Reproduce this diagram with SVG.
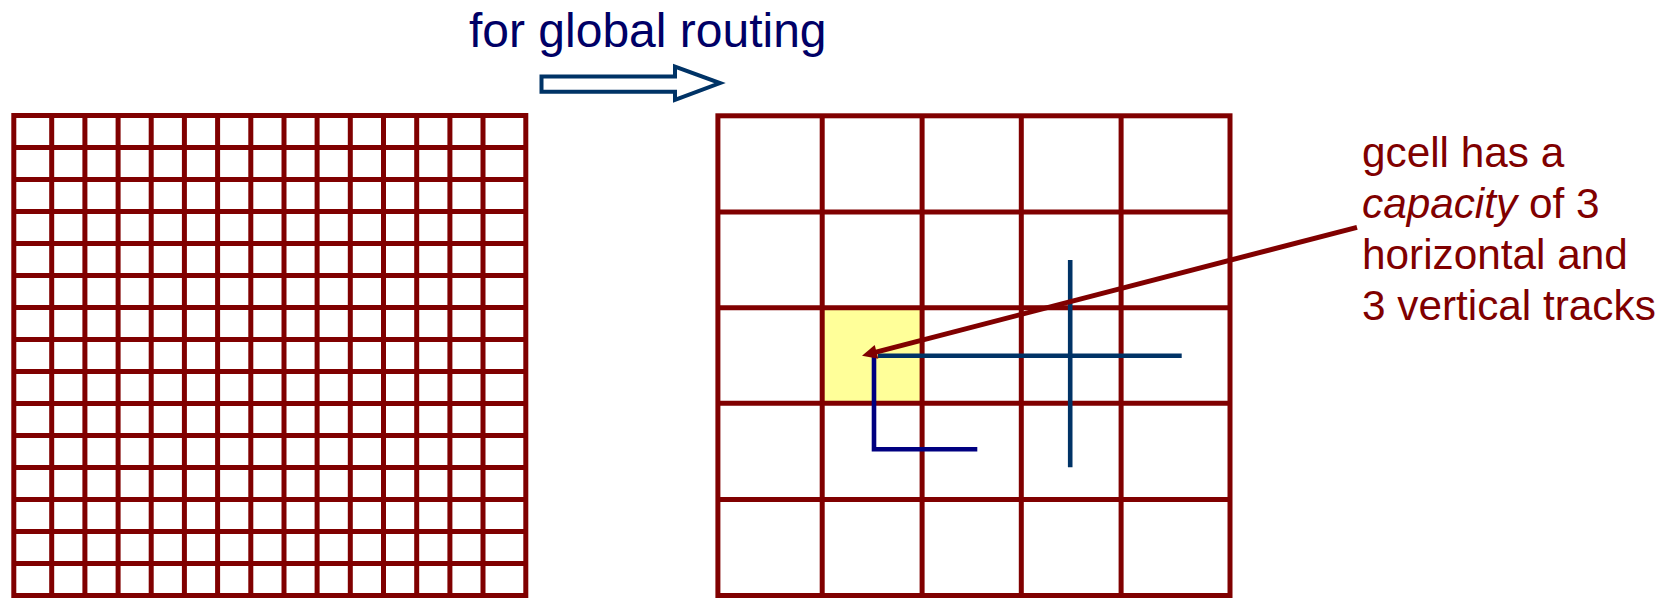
<svg xmlns="http://www.w3.org/2000/svg" width="1674" height="598" viewBox="0 0 1674 598">
<style>
.grid{stroke:#800000;stroke-width:5;fill:none;stroke-linecap:butt}
.track{fill:none;stroke-width:4.6;stroke-linecap:butt}
.t1{font-family:"Liberation Sans",Arial,sans-serif;font-size:48px;fill:#000066}
.t2{font-family:"Liberation Sans",Arial,sans-serif;font-size:42.3px;fill:#800000}
</style>
<rect width="1674" height="598" fill="#ffffff"/>
<g id="fine-grid">
<path class="grid" d="M51.7,115.5V595.5M84.9,115.5V595.5M118.1,115.5V595.5M151.2,115.5V595.5M184.4,115.5V595.5M217.6,115.5V595.5M250.8,115.5V595.5M284,115.5V595.5M317.1,115.5V595.5M350.3,115.5V595.5M383.5,115.5V595.5M416.7,115.5V595.5M449.9,115.5V595.5M483,115.5V595.5
M13.8,147.5H525.8M13.8,179.5H525.8M13.8,211.5H525.8M13.8,243.5H525.8M13.8,275.5H525.8M13.8,307.5H525.8M13.8,339.5H525.8M13.8,371.5H525.8M13.8,403.5H525.8M13.8,435.5H525.8M13.8,467.5H525.8M13.8,499.5H525.8M13.8,531.5H525.8M13.8,563.5H525.8"/>
<rect class="grid" x="13.8" y="115.5" width="512" height="480"/>
</g>
<g id="label-global">
<text class="t1" x="469" y="46.5">for global routing</text>
</g>
<g id="hollow-arrow">
<polygon points="541.5,76.5 675,76.5 675,66.5 720,83 675,99.8 675,91.8 541.5,91.8" fill="#ffffff" stroke="#003366" stroke-width="4" stroke-linejoin="miter"/>
</g>
<g id="coarse-grid">
<rect id="gcell" x="822" y="307.7" width="100" height="95.6" fill="#ffff99"/>
<path class="grid" d="M822.2,115.8V595.5M922.1,115.8V595.5M1021.3,115.8V595.5M1121.1,115.8V595.5
M717.9,212H1230M717.9,307.7H1230M717.9,403.3H1230M717.9,499.5H1230"/>
<rect class="grid" x="717.9" y="115.8" width="512.1" height="479.7"/>
</g>
<g id="tracks">
<line class="track" x1="878" y1="355.7" x2="1181.7" y2="355.7" stroke="#003366"/>
<line class="track" x1="1070.2" y1="260" x2="1070.2" y2="467.3" stroke="#003366"/>
<path class="track" d="M874,356V449.3H977.3" stroke="#000080"/>
</g>
<g id="connectors">
<line x1="1357" y1="227.3" x2="875" y2="352.3" stroke="#800000" stroke-width="5"/>
<polygon points="862,355.7 874.7,345.1 878.3,358.7" fill="#800000"/>
</g>
<g id="label-gcell">
<text class="t2" x="1362" y="166.7">gcell has a</text>
<text class="t2" x="1362" y="217.5"><tspan font-style="italic">capacity</tspan> of 3</text>
<text class="t2" x="1362" y="269">horizontal and</text>
<text class="t2" x="1362" y="320">3 vertical tracks</text>
</g>
</svg>
